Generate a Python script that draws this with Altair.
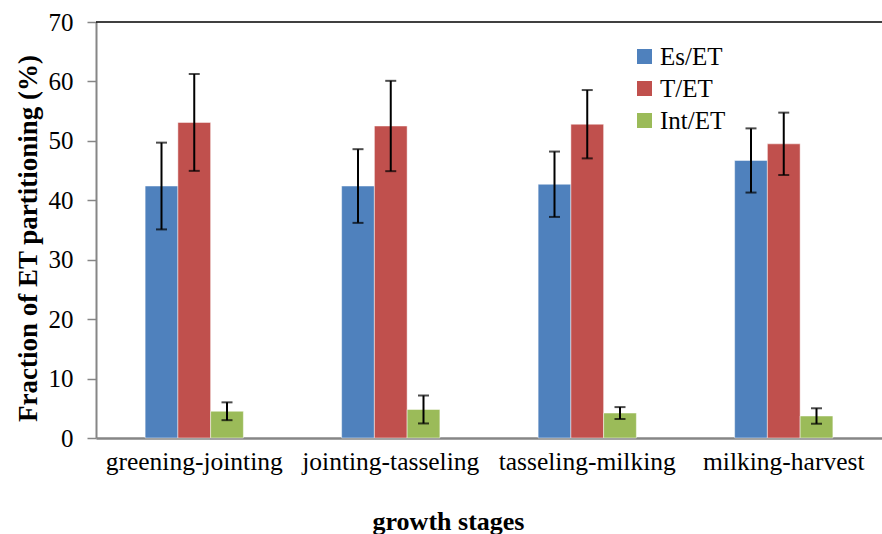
import altair as alt
import pandas as pd

# Growth stages along the x axis
stages = ["greening-jointing", "jointing-tasseling", "tasseling-milking", "milking-harvest"]
series = ["Es/ET", "T/ET", "Int/ET"]
colors = ["#4F81BD", "#C0504D", "#9BBB59"]

# Mean fractions (%) and their error half-widths per stage
es_vals = [42.4, 42.4, 42.7, 46.7]
es_err = [7.3, 6.2, 5.5, 5.4]
t_vals = [53.1, 52.5, 52.8, 49.5]
t_err = [8.15, 7.6, 5.75, 5.25]
int_vals = [4.5, 4.8, 4.2, 3.7]
int_err = [1.5, 2.35, 1.0, 1.3]

rows = []
for name, vals, errs in [("Es/ET", es_vals, es_err), ("T/ET", t_vals, t_err), ("Int/ET", int_vals, int_err)]:
    for st, v, e in zip(stages, vals, errs):
        rows.append({"stage": st, "series": name, "value": v, "lo": v - e, "hi": v + e})
df = pd.DataFrame(rows)

FONT = "Liberation Serif"
GREY = "#868686"

x_enc = alt.X(
    "stage:N",
    sort=stages,
    scale=alt.Scale(paddingInner=0.5, paddingOuter=0.25),
    axis=alt.Axis(
        title="growth stages",
        titleFont=FONT,
        titleFontSize=26,
        titleFontWeight="bold",
        titleColor="black",
        titleX=352,
        titleY=83,
        titleBaseline="middle",
        labelFont=FONT,
        labelFontSize=25.5,
        labelColor="black",
        labelPadding=11,
        labelAngle=0,
        ticks=False,
        domainColor=GREY,
        domainWidth=2.5,
    ),
)
off_enc = alt.XOffset("series:N", sort=series, scale=alt.Scale(paddingInner=0, paddingOuter=0))
y_scale = alt.Scale(domain=[0, 70], nice=False)

bars = alt.Chart(df).mark_bar(stroke="white", strokeWidth=0.8, strokeOpacity=0.6).encode(
    x=x_enc,
    xOffset=off_enc,
    y=alt.Y(
        "value:Q",
        scale=y_scale,
        axis=alt.Axis(
            values=list(range(0, 71, 10)),
            grid=False,
            title="Fraction of ET partitioning  (%)",
            titleFont=FONT,
            titleFontSize=27,
            titleFontWeight="bold",
            titleColor="black",
            titleAngle=-90,
            titleX=-68,
            titleY=216,
            titleAlign="center",
            titleBaseline="middle",
            labelFont=FONT,
            labelFontSize=25,
            labelColor="black",
            labelPadding=14,
            tickColor=GREY,
            tickSize=9,
            tickWidth=1.5,
            domainColor=GREY,
            domainWidth=2,
        ),
    ),
    color=alt.Color(
        "series:N",
        sort=series,
        scale=alt.Scale(domain=series, range=colors),
        legend=alt.Legend(
            title=None,
            orient="none",
            legendX=536,
            legendY=22,
            symbolType="square",
            symbolSize=225,
            symbolStrokeWidth=0,
            labelFont=FONT,
            labelFontSize=25,
            labelColor="black",
            labelOffset=3,
            rowPadding=6,
            padding=0,
        ),
    ),
)

err_rule = alt.Chart(df).mark_rule(color="black", strokeWidth=2).encode(
    x=alt.X("stage:N", sort=stages),
    xOffset=off_enc,
    y="lo:Q",
    y2="hi:Q",
)
cap_lo = alt.Chart(df).mark_tick(color="black", thickness=2, size=11).encode(
    x=alt.X("stage:N", sort=stages),
    xOffset=off_enc,
    y="lo:Q",
)
cap_hi = alt.Chart(df).mark_tick(color="black", thickness=2, size=11).encode(
    x=alt.X("stage:N", sort=stages),
    xOffset=off_enc,
    y="hi:Q",
)

top_line = alt.Chart(pd.DataFrame({"v": [70]})).mark_rule(color="black", strokeWidth=1.5).encode(
    y=alt.Y("v:Q", scale=y_scale)
)

chart = (
    alt.layer(bars, err_rule, cap_lo, cap_hi, top_line)
    .properties(
        width=786,
        height=416,
        autosize=alt.AutoSizeParams(type="none"),
        padding={"left": 96, "top": 22, "right": 0, "bottom": 96},
        background="white",
    )
    .configure_view(strokeWidth=0)
)

chart.save("out.html", embed_options={"renderer": "svg", "actions": False})
